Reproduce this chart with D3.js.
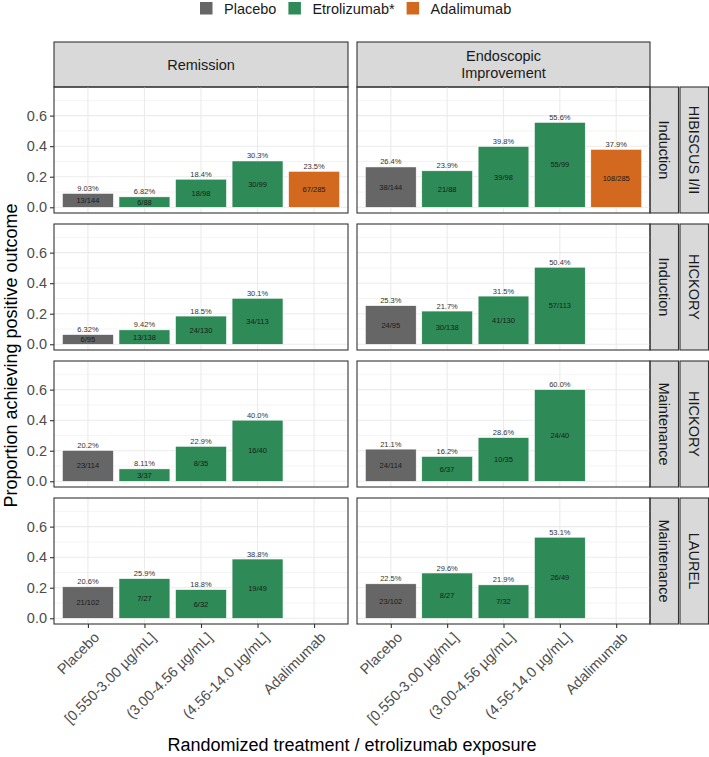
<!DOCTYPE html>
<html>
<head>
<meta charset="utf-8">
<script src="https://cdn.jsdelivr.net/npm/d3@7"></script>
<style>
  body { margin: 0; background: #fff; }
  svg { font-family: "Liberation Sans", Arial, Helvetica, sans-serif; }
</style>
</head>
<body>
<svg id="chart" width="709" height="757"></svg>
<script>
// categories on the x axis and their fill group
const treatments = ['Placebo', '[0.550-3.00 µg/mL]', '(3.00-4.56 µg/mL]', '(4.56-14.0 µg/mL]', 'Adalimumab'];
const treatmentGroup = ['Placebo', 'Etrolizumab*', 'Etrolizumab*', 'Etrolizumab*', 'Adalimumab'];
const legendItems = ['Placebo', 'Etrolizumab*', 'Adalimumab'];
const legendColors = ['#666666', '#2e8b57', '#d2691e'];

// facets
const outcomes = [['Remission'], ['Endoscopic', 'Improvement']];
const studies = ['HIBISCUS I/II', 'HICKORY', 'HICKORY', 'LAUREL'];
const phases = ['Induction', 'Induction', 'Maintenance', 'Maintenance'];
const yTicks = [0, 0.2, 0.4, 0.6];
const yMinor = [0.1, 0.3, 0.5, 0.7];

// patients per arm (same for both outcomes), one row per study/phase
const totals = [
  [144, 88, 98, 99, 285],
  [95, 138, 130, 113],
  [114, 37, 35, 40],
  [102, 27, 32, 49]
];
// responders
const remission = [
  [13, 6, 18, 30, 67],
  [6, 13, 24, 34],
  [23, 3, 8, 16],
  [21, 7, 6, 19]
];
const endoscopic = [
  [38, 21, 39, 55, 108],
  [24, 30, 41, 57],
  [24, 6, 10, 24],
  [23, 8, 7, 26]
];
const responders = [remission, endoscopic];

const colX = [[54, 348], [357, 650]];
const rowY = [[87, 213], [224, 350], [361, 487], [498, 624]];
const stripTop = 42;
const stripA = [650, 678.5];
const stripB = [680, 708.5];
const dark = '#333333';

const color = d3.scaleOrdinal().domain(legendItems).range(legendColors);
const fmtPct = d3.format('.3p');
const svg = d3.select('#chart');

// legend
const legend = svg.append('g').attr('transform', 'translate(200,0)');
let lx = 0;
legendItems.forEach((name) => {
  legend.append('rect')
    .attr('x', lx).attr('y', 2)
    .attr('width', 12.5).attr('height', 12.5)
    .attr('fill', color(name));
  const t = legend.append('text')
    .attr('x', lx + 24).attr('y', 13.5)
    .attr('font-size', 14.5)
    .attr('fill', '#1a1a1a')
    .text(name);
  lx += 24 + t.node().getComputedTextLength() + 12;
});

// top strips
outcomes.forEach((lines, j) => {
  const [x0, x1] = colX[j];
  svg.append('rect')
    .attr('x', x0).attr('y', stripTop)
    .attr('width', x1 - x0).attr('height', rowY[0][0] - stripTop)
    .attr('fill', '#d9d9d9').attr('stroke', dark).attr('stroke-width', 1.1);
  const cy = (stripTop + rowY[0][0]) / 2;
  const t = svg.append('text')
    .attr('x', (x0 + x1) / 2).attr('y', cy)
    .attr('text-anchor', 'middle')
    .attr('font-size', 14.5)
    .attr('fill', '#1a1a1a');
  lines.forEach((line, k) => {
    t.append('tspan')
      .attr('x', (x0 + x1) / 2)
      .attr('y', cy + (k - (lines.length - 1) / 2) * 16.5)
      .attr('dy', '0.35em')
      .text(line);
  });
});

// right strips
rowY.forEach(([y0, y1], i) => {
  [[stripA, phases[i]], [stripB, studies[i]]].forEach(([[sx0, sx1], label]) => {
    svg.append('rect')
      .attr('x', sx0).attr('y', y0)
      .attr('width', sx1 - sx0).attr('height', y1 - y0)
      .attr('fill', '#d9d9d9').attr('stroke', dark).attr('stroke-width', 1.1);
    svg.append('text')
      .attr('transform', `translate(${(sx0 + sx1) / 2},${(y0 + y1) / 2}) rotate(90)`)
      .attr('text-anchor', 'middle')
      .attr('dy', '0.35em')
      .attr('font-size', 14.5)
      .attr('fill', '#1a1a1a')
      .text(label);
  });
});

// panels
rowY.forEach(([y0, y1], i) => {
  const y = d3.scaleLinear().domain([-0.0375, 0.7875]).range([y1, y0]);
  colX.forEach(([x0, x1], j) => {
    const x = d3.scalePoint().domain(treatments).range([x0, x1]).padding(0.6);
    const bw = x.step() * 0.9;
    const g = svg.append('g');

    g.selectAll('.minor').data(yMinor).enter().append('line')
      .attr('x1', x0).attr('x2', x1)
      .attr('y1', d => y(d)).attr('y2', d => y(d))
      .attr('stroke', '#ebebeb').attr('stroke-width', 0.55);
    g.selectAll('.major').data(yTicks).enter().append('line')
      .attr('x1', x0).attr('x2', x1)
      .attr('y1', d => y(d)).attr('y2', d => y(d))
      .attr('stroke', '#ebebeb').attr('stroke-width', 1.1);
    g.selectAll('.vgrid').data(treatments).enter().append('line')
      .attr('x1', d => x(d)).attr('x2', d => x(d))
      .attr('y1', y0).attr('y2', y1)
      .attr('stroke', '#ebebeb').attr('stroke-width', 1.1);

    const data = responders[j][i].map((n, k) => ({
      cat: treatments[k],
      group: treatmentGroup[k],
      n,
      total: totals[i][k],
      p: n / totals[i][k]
    }));

    g.selectAll('.bar').data(data).enter().append('rect')
      .attr('x', d => x(d.cat) - bw / 2)
      .attr('y', d => y(d.p))
      .attr('width', bw)
      .attr('height', d => y(0) - y(d.p))
      .attr('fill', d => color(d.group))
      .attr('stroke', '#ffffff').attr('stroke-width', 0.5);

    g.selectAll('.pct').data(data).enter().append('text')
      .attr('x', d => x(d.cat)).attr('y', d => y(d.p) - 2.5)
      .attr('text-anchor', 'middle')
      .attr('font-size', 7.5)
      .attr('fill', '#333333')
      .text(d => fmtPct(d.p));

    g.selectAll('.cnt').data(data).enter().append('text')
      .attr('x', d => x(d.cat)).attr('y', d => y(d.p / 2))
      .attr('dy', '0.35em')
      .attr('text-anchor', 'middle')
      .attr('font-size', 7.5)
      .attr('fill', '#1a1a1a')
      .text(d => `${d.n}/${d.total}`);

    g.append('rect')
      .attr('x', x0).attr('y', y0)
      .attr('width', x1 - x0).attr('height', y1 - y0)
      .attr('fill', 'none').attr('stroke', dark).attr('stroke-width', 1.1);

    if (j === 0) {
      const ax = svg.append('g')
        .attr('transform', `translate(${x0},0)`)
        .call(d3.axisLeft(y).tickValues(yTicks).tickSize(4).tickPadding(3).tickFormat(d3.format('.1f')));
      ax.select('.domain').remove();
      ax.selectAll('line').attr('stroke', dark).attr('stroke-width', 1.1);
      ax.selectAll('text').attr('font-size', 14.5).attr('fill', '#4d4d4d')
        .attr('font-family', '"Liberation Sans", Arial, sans-serif');
    }

    if (i === rowY.length - 1) {
      const ax = svg.append('g')
        .attr('transform', `translate(0,${y1})`)
        .call(d3.axisBottom(x).tickSize(4).tickFormat(''));
      ax.select('.domain').remove();
      ax.selectAll('line').attr('stroke', dark).attr('stroke-width', 1.1);
      svg.append('g').selectAll('text').data(treatments).enter().append('text')
        .attr('transform', d => `translate(${x(d) + 5},${y1 + 7}) rotate(-45)`)
        .attr('text-anchor', 'end')
        .attr('dy', '0.71em')
        .attr('font-size', 14.5)
        .attr('fill', '#4d4d4d')
        .text(d => d);
    }
  });
});

// axis titles
const midX = (colX[0][0] + colX[1][1]) / 2;
const midY = (rowY[0][0] + rowY[rowY.length - 1][1]) / 2;
svg.append('text')
  .attr('x', midX).attr('y', 751)
  .attr('text-anchor', 'middle')
  .attr('font-size', 18)
  .attr('fill', '#000')
  .text('Randomized treatment / etrolizumab exposure');
svg.append('text')
  .attr('transform', `translate(17,${midY}) rotate(-90)`)
  .attr('text-anchor', 'middle')
  .attr('font-size', 18)
  .attr('fill', '#000')
  .text('Proportion achieving positive outcome');
</script>
</body>
</html>
